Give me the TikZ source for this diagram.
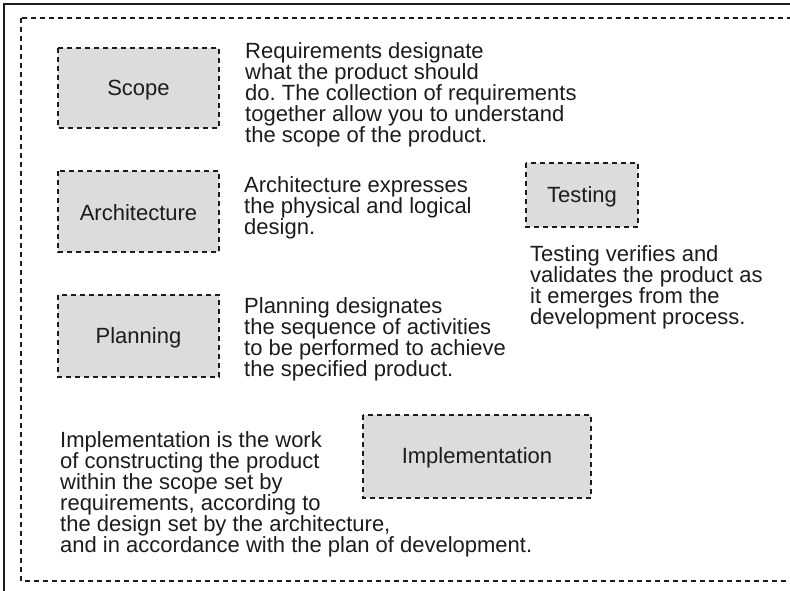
\documentclass[tikz,border=0pt]{standalone}
\usepackage{fontspec}
\setmainfont{Liberation Sans}
\frenchspacing
\definecolor{boxfill}{RGB}{220,220,222}
\definecolor{ink}{RGB}{28,28,28}
\tikzset{
  area/.style={draw=ink, line width=1.8pt, dash pattern=on 5pt off 4pt},
  phase/.style={area, fill=boxfill},
  label/.style={font=\fontsize{22}{21}\selectfont, text=ink},
  note/.style={label, anchor=north west, align=left, inner sep=0pt,
    execute at begin node={\lineskiplimit=-20pt\frenchspacing}},
}
\begin{document}
\begin{tikzpicture}[x=1pt,y=-1pt]
\useasboundingbox (0,0) rectangle (790,591);
\fill[white] (0,0) rectangle (790,591);
% solid outer frame (cut by the page)
\draw[ink, line width=2pt] (4,620) -- (4,4) -- (820,4);
% dashed area
\draw[area] (21,18) rectangle (820,581);
% phase boxes
\draw[phase] (58,48) rectangle (219,128);
\node[label] (scope) at (138.5,90) {Scope};
\draw[phase] (58,171) rectangle (219,252);
\node[label] (arch) at (138.5,213) {Architecture};
\draw[phase] (58,295) rectangle (219,377);
\node[label] (plan) at (138.5,338) {Planning};
\draw[phase] (526,163) rectangle (638,227);
\node[label] (test) at (582,197) {Testing};
\draw[phase] (363,415) rectangle (591,498);
\node[label] (impl) at (477,458) {Implementation};
% descriptions
\node[note] (reqtext) at (245,42) {Requirements designate\\what the product should\\do. The collection of requirements\\together allow you to understand\\the scope of the product.};
\node[note] (archtext) at (244,176) {Architecture expresses\\the physical and logical\\design.};
\node[note] (plantext) at (244,297) {Planning designates\\the sequence of activities\\to be performed to achieve\\the specified product.};
\node[note] (testtext) at (530,245) {Testing verifies and\\validates the product as\\it emerges from the\\development process.};
\node[note] (impltext) at (60,431) {Implementation is the work\\of constructing the product\\within the scope set by\\requirements, according to\\the design set by the architecture,\\and in accordance with the plan of development.};
\end{tikzpicture}
\end{document}
